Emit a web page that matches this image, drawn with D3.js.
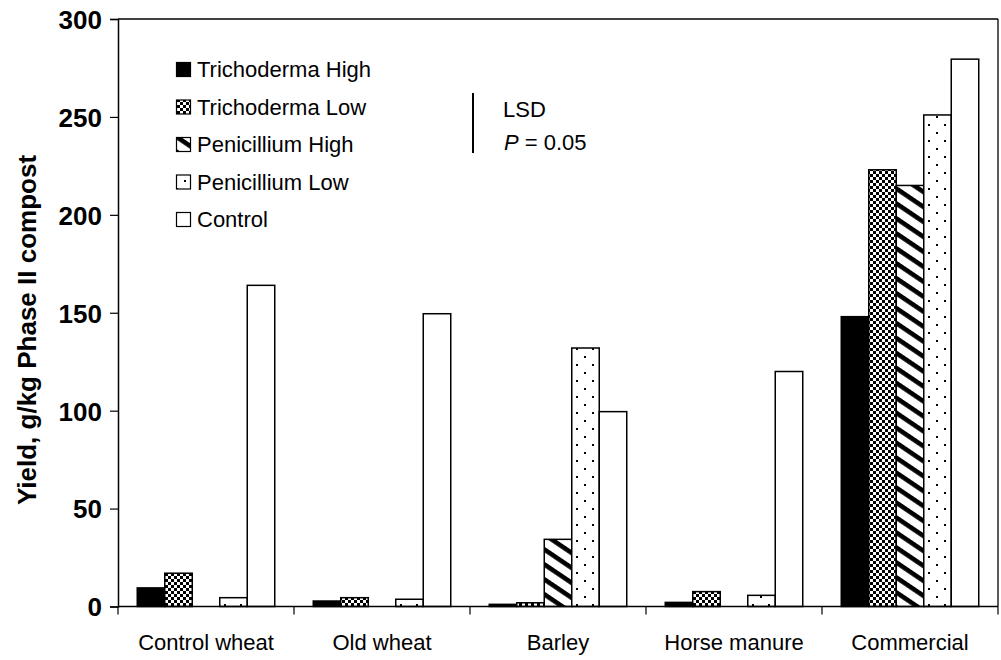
<!DOCTYPE html>
<html><head><meta charset="utf-8">
<script src="https://cdn.jsdelivr.net/npm/d3@7"></script>
<style>
html,body{margin:0;padding:0;background:#fff;}
svg{display:block;}
text{font-family:"Liberation Sans",Arial,sans-serif;fill:#000;}
</style></head>
<body>
<svg id="chart" width="1001" height="660"></svg>
<script>
const categories = ["Control wheat","Old wheat","Barley","Horse manure","Commercial"];
const seriesNames = ["Trichoderma High","Trichoderma Low","Penicillium High","Penicillium Low","Control"];
const trichodermaHigh = [9.5, 2.8, 1.1, 2.1, 148];
const trichodermaLow  = [17, 4.5, 1.9, 7.6, 223];
const penicilliumHigh = [0, 0, 34.3, 0, 215];
const penicilliumLow  = [4.5, 3.7, 132, 5.7, 251];
const controlVals     = [164, 149.5, 99.5, 120, 279.5];
const yTicks = [0, 50, 100, 150, 200, 250, 300];
const lsdValue = 30.6;

(function(){
const seriesValues = [trichodermaHigh, trichodermaLow, penicilliumHigh, penicilliumLow, controlVals];
const fills = ["#000","url(#checker)","url(#stripes)","url(#dots)","#fff"];

const svg = d3.select("#chart");
const mLeft = 118, mRight = 998, mTop = 19, mBottom = 606.5;

// patterns
const defs = svg.append("defs");
const chk = defs.append("pattern").attr("id","checker").attr("patternUnits","userSpaceOnUse")
  .attr("width",6).attr("height",6);
chk.append("rect").attr("width",6).attr("height",6).attr("fill","#fff");
chk.append("rect").attr("x",0).attr("y",0).attr("width",3).attr("height",3).attr("fill","#000");
chk.append("rect").attr("x",3).attr("y",3).attr("width",3).attr("height",3).attr("fill","#000");

const st = defs.append("pattern").attr("id","stripes").attr("patternUnits","userSpaceOnUse")
  .attr("width",12.4).attr("height",12.4).attr("patternTransform","rotate(34)");
st.append("rect").attr("width",12.4).attr("height",12.4).attr("fill","#fff");
st.append("rect").attr("x",0).attr("y",0).attr("width",12.4).attr("height",4.6).attr("fill","#000");

const dt = defs.append("pattern").attr("id","dots").attr("patternUnits","userSpaceOnUse")
  .attr("width",16).attr("height",16);
dt.append("rect").attr("width",16).attr("height",16).attr("fill","#fff");
dt.append("rect").attr("x",8).attr("y",4).attr("width",2).attr("height",2).attr("fill","#000");
dt.append("rect").attr("x",0).attr("y",12).attr("width",2).attr("height",2).attr("fill","#000");

// scales
const x0 = d3.scaleBand().domain(categories).range([mLeft,mRight]).paddingInner(0).paddingOuter(0);
const x1 = d3.scaleBand().domain(seriesNames).range([0,x0.bandwidth()]).paddingInner(0).paddingOuter(0.7);
const y = d3.scaleLinear().domain([0,300]).range([mBottom,mTop]);

// bars
const gBars = svg.append("g");
seriesNames.forEach((s,si)=>{
  const data = categories.map((c,ci)=>({c, v: seriesValues[si][ci]})).filter(d=>d.v>0);
  gBars.selectAll(null).data(data).enter().append("rect")
    .attr("x",d=>x0(d.c)+x1(s))
    .attr("y",d=>y(d.v))
    .attr("width",x1.bandwidth())
    .attr("height",d=>y(0)-y(d.v))
    .attr("fill",fills[si])
    .attr("stroke","#000").attr("stroke-width",1.5);
});

// frame top/right
svg.append("line").attr("x1",mLeft).attr("x2",mRight).attr("y1",mTop).attr("y2",mTop)
  .attr("stroke","#000").attr("stroke-width",1.3);
svg.append("line").attr("x1",mRight).attr("x2",mRight).attr("y1",mTop).attr("y2",mBottom)
  .attr("stroke","#000").attr("stroke-width",1.3);

// y axis
const yAxis = d3.axisLeft(y).tickValues(yTicks).tickSize(8).tickPadding(8);
const gy = svg.append("g").attr("transform",`translate(${mLeft},0)`).call(yAxis);
gy.select(".domain").attr("stroke","#000").attr("stroke-width",1.5);
gy.selectAll(".tick line").attr("stroke","#000").attr("stroke-width",1.2);
gy.selectAll(".tick text").style("font-family","'Liberation Sans',Arial,sans-serif")
  .style("font-size","26px").style("font-weight","bold").attr("fill","#000").attr("dy","0.36em");

// x axis
const boundaries = categories.map(c=>x0(c)).concat([mRight]);
const gx = svg.append("g");
gx.append("line").attr("x1",mLeft).attr("x2",mRight).attr("y1",mBottom).attr("y2",mBottom)
  .attr("stroke","#000").attr("stroke-width",1.5);
gx.selectAll("line.tk").data(boundaries).enter().append("line").attr("class","tk")
  .attr("x1",d=>d).attr("x2",d=>d).attr("y1",mBottom).attr("y2",mBottom+8)
  .attr("stroke","#000").attr("stroke-width",1.2);
gx.selectAll("text").data(categories).enter().append("text")
  .attr("x",d=>x0(d)+x0.bandwidth()/2).attr("y",650)
  .attr("text-anchor","middle").style("font-size","22px").text(d=>d);

// y label
svg.append("text").attr("transform","translate(36,330) rotate(-90)")
  .attr("text-anchor","middle").style("font-size","26px").style("font-weight","bold")
  .text("Yield, g/kg Phase II compost");

// legend
const lg = svg.append("g");
seriesNames.forEach((s,i)=>{
  const by = 77 + i*37.5;
  lg.append("rect").attr("x",176.5).attr("y",by-14.5).attr("width",14).attr("height",14)
    .attr("fill",fills[i]).attr("stroke","#000").attr("stroke-width",1.2);
  lg.append("text").attr("x",197).attr("y",by).style("font-size","22px").text(s);
});

// LSD bar
const lsdTop = 93;
svg.append("line").attr("x1",473).attr("x2",473)
  .attr("y1",lsdTop).attr("y2",lsdTop + (y(0)-y(lsdValue)))
  .attr("stroke","#000").attr("stroke-width",2);
svg.append("text").attr("x",503).attr("y",117).style("font-size","22px").text("LSD");
const pt = svg.append("text").attr("x",504).attr("y",150).style("font-size","22px");
pt.append("tspan").style("font-style","italic").text("P");
pt.append("tspan").text(" = 0.05");
})();
</script>
</body></html>
